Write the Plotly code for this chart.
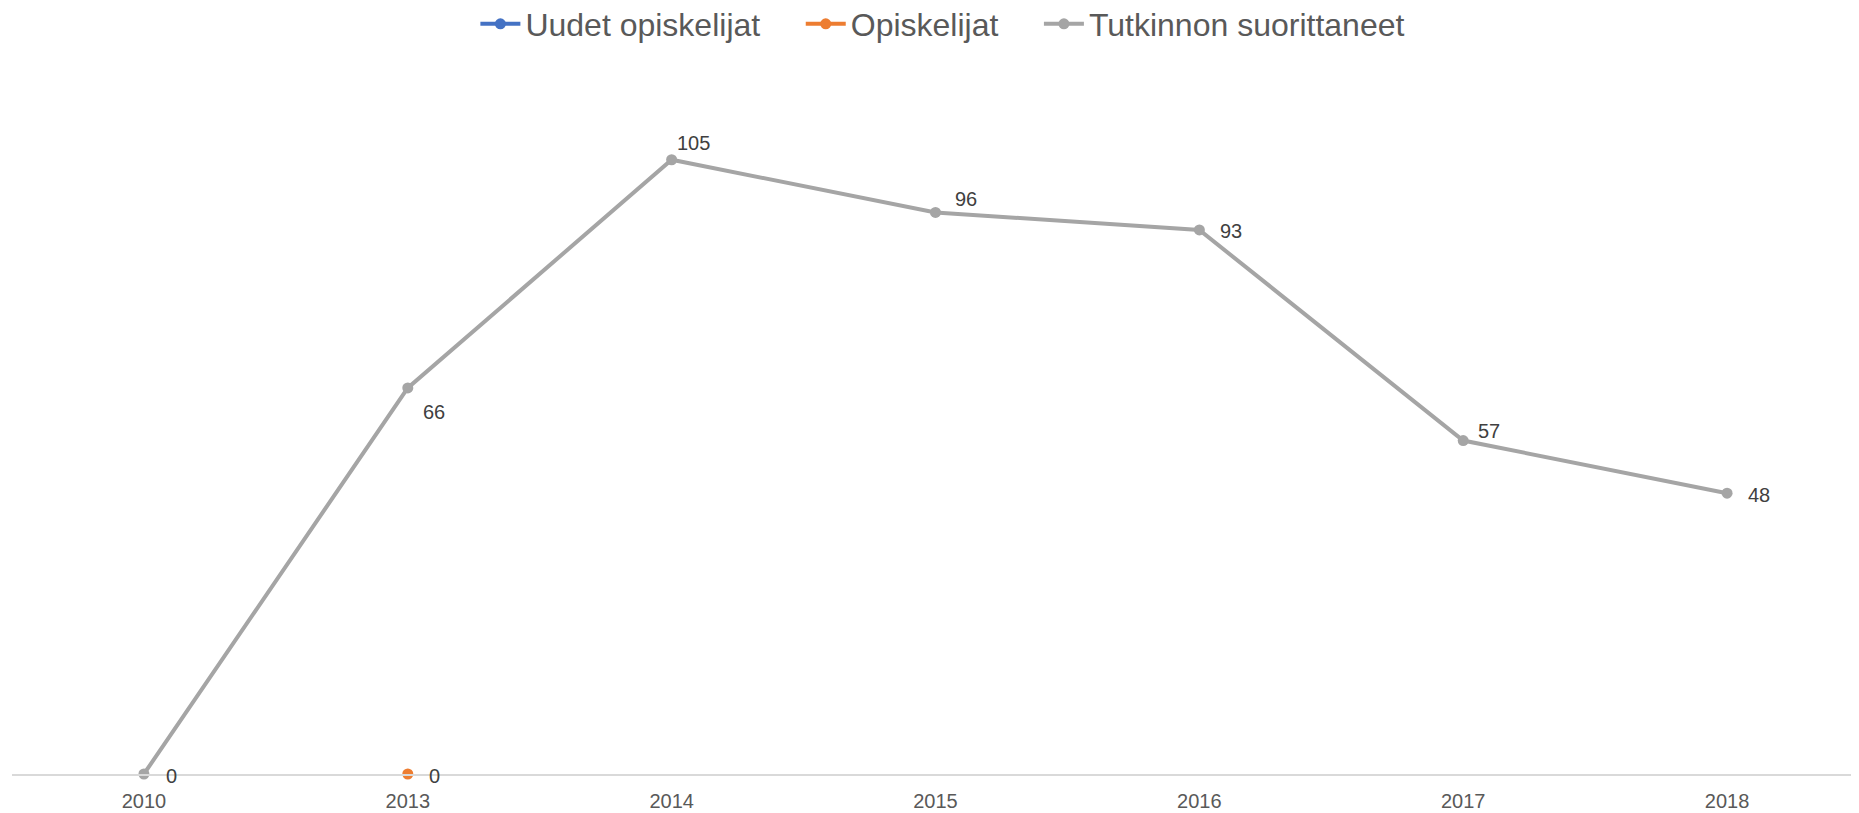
import plotly.graph_objects as go

years = ["2010", "2013", "2014", "2015", "2016", "2017", "2018"]
uudet_opiskelijat = [None, None, None, None, None, None, None]
opiskelijat = [None, 0, None, None, None, None, None]
tutkinnon_suorittaneet = [0, 66, 105, 96, 93, 57, 48]

# label offsets (screen px, right / down) for the data labels
tut_label_offsets = [(21, 2), (14, 24), (4, -17), (18, -13), (20, 1), (14, -10), (20, 2)]
opi_label_offsets = [None, (20, 2), None, None, None, None, None]

FONT = "Liberation Sans, Arial, sans-serif"
GAP = "\u00a0" * 4

fig = go.Figure()
fig.add_trace(go.Scatter(
    x=years, y=uudet_opiskelijat, name="Uudet opiskelijat" + GAP,
    mode="lines+markers", line=dict(color="#4472C4", width=4),
    marker=dict(size=11, color="#4472C4"), cliponaxis=False))
fig.add_trace(go.Scatter(
    x=years, y=opiskelijat, name="Opiskelijat" + GAP,
    mode="lines+markers", line=dict(color="#ED7D31", width=4),
    marker=dict(size=11, color="#ED7D31"), cliponaxis=False))
fig.add_trace(go.Scatter(
    x=years, y=tutkinnon_suorittaneet, name="Tutkinnon suorittaneet",
    mode="lines+markers", line=dict(color="#A5A5A5", width=4),
    marker=dict(size=11, color="#A5A5A5"), cliponaxis=False))

annotations = []
for series, offsets in ((tutkinnon_suorittaneet, tut_label_offsets),
                        (opiskelijat, opi_label_offsets)):
    for i, (v, off) in enumerate(zip(series, offsets)):
        if v is None or off is None:
            continue
        annotations.append(dict(
            x=i, y=v, xref="x", yref="y", text=str(v), showarrow=False,
            xanchor="left", yanchor="middle", xshift=off[0] - 1, yshift=-off[1],
            font=dict(size=20, color="#404040", family=FONT)))

fig.update_layout(
    width=1851, height=805,
    paper_bgcolor="white", plot_bgcolor="white",
    margin=dict(l=4, r=0, t=64, b=39, autoexpand=False),
    font=dict(family=FONT, color="#595959"),
    showlegend=True,
    legend=dict(orientation="h", x=0.504, xanchor="center", y=1.0684, yanchor="middle",
                yref="paper", font=dict(size=32, color="#595959"),
                bgcolor="rgba(0,0,0,0)",
                itemwidth=40, traceorder="normal"),
    xaxis=dict(type="category", range=[-0.5, 6.5], showgrid=False,
               showline=True, linecolor="#D9D9D9", linewidth=1.5,
               ticks="", ticklabelstandoff=8, automargin=False,
               tickfont=dict(size=20, color="#595959"), zeroline=False),
    yaxis=dict(range=[0, 120], visible=False, showgrid=False, zeroline=False,
               automargin=False),
    annotations=annotations,
)

fig.write_html("out.html")
